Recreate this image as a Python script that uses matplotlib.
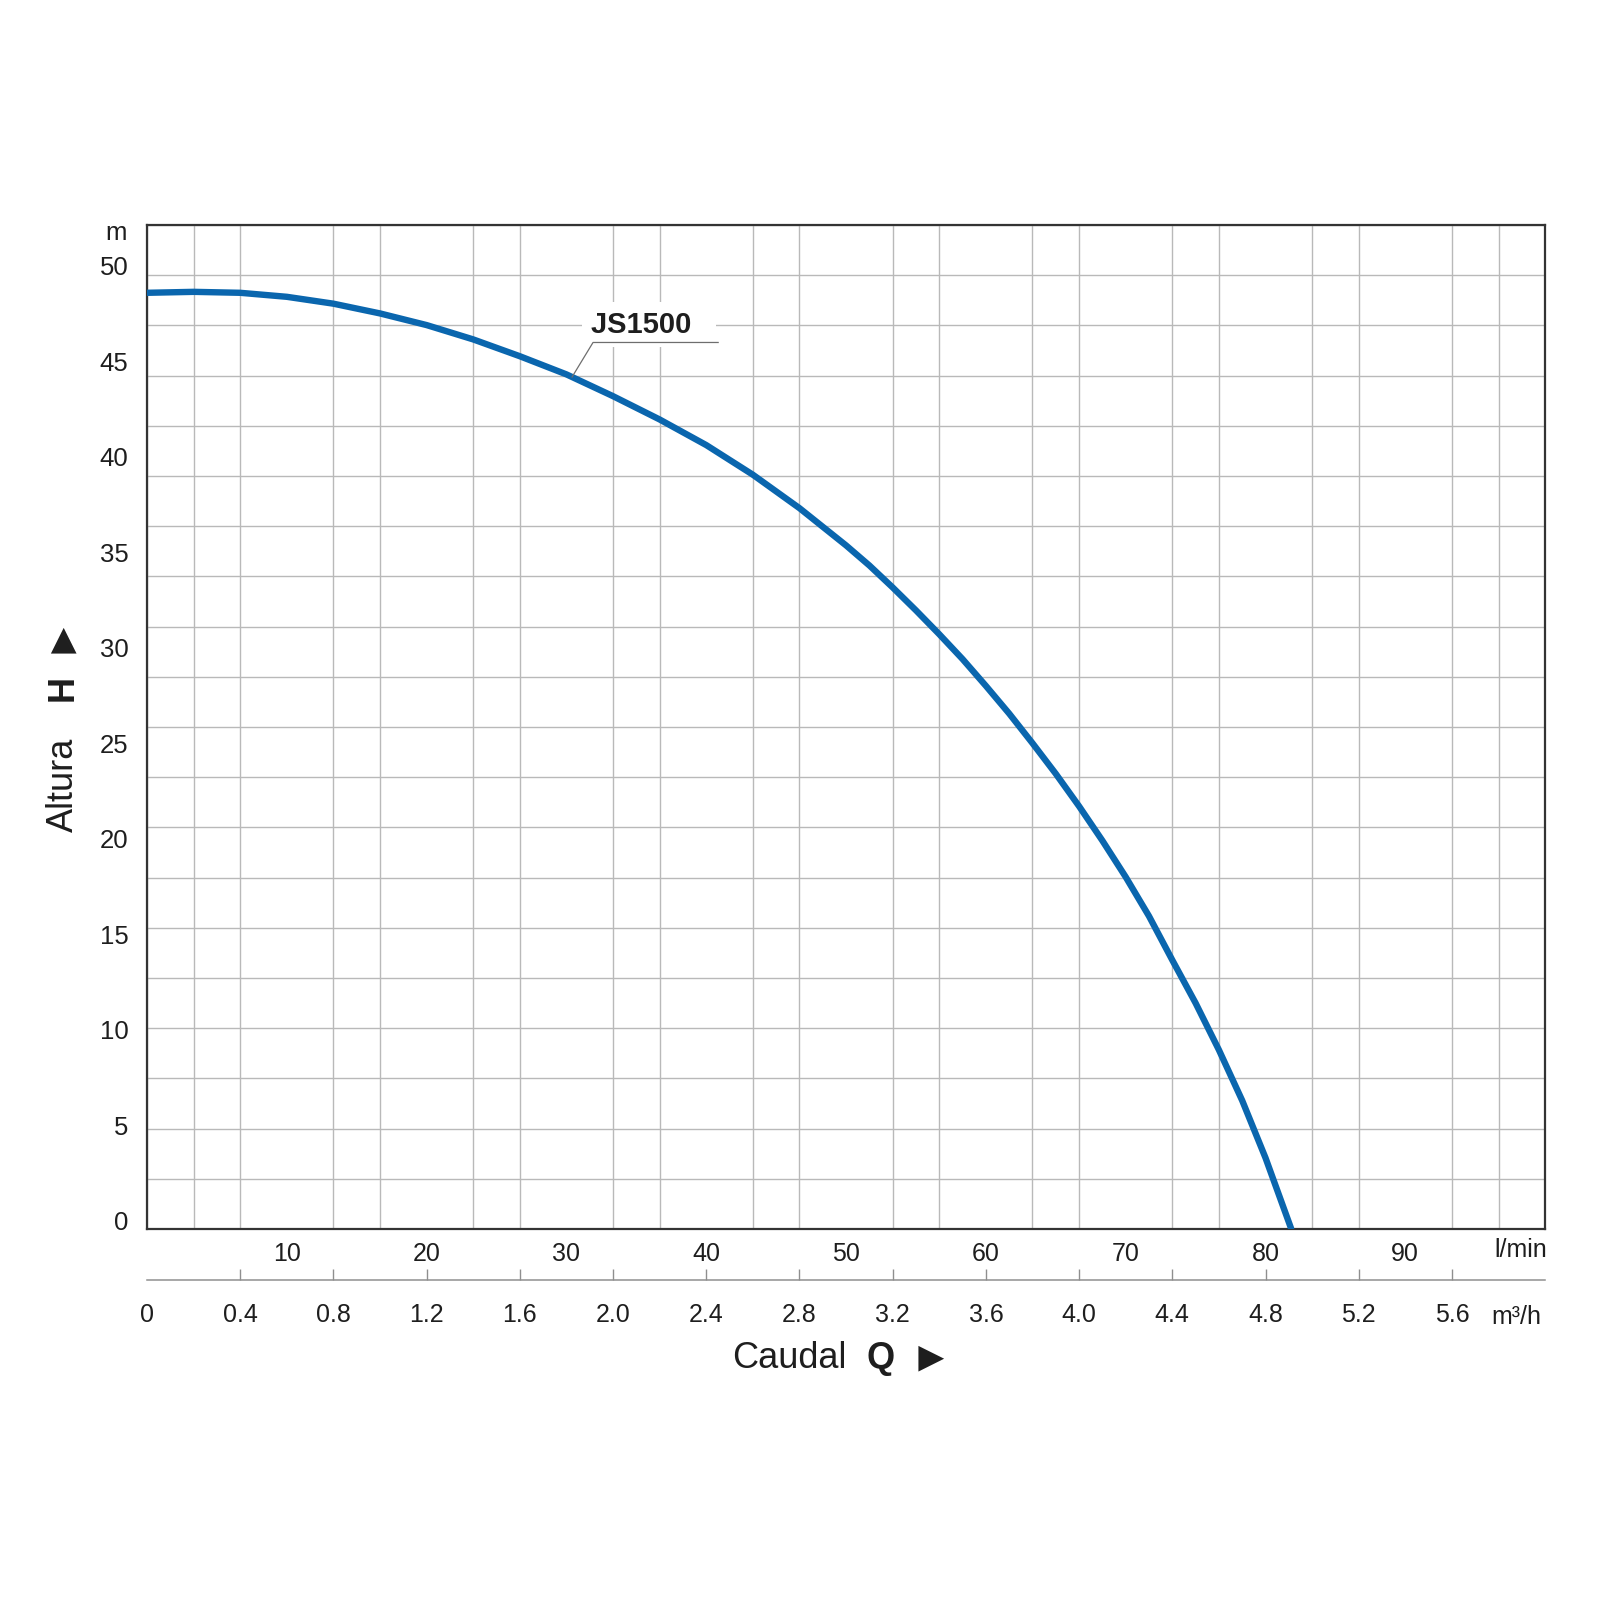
import numpy as np
import matplotlib
matplotlib.use("Agg")
import matplotlib.pyplot as plt

plt.rcParams['font.family'] = ['Liberation Sans', 'DejaVu Sans']

# DATA
# flow in m3/h, head in m
q_m3h = [0.0, 0.2, 0.4, 0.6, 0.8, 1.0, 1.2, 1.4, 1.6, 1.8, 2.0, 2.2, 2.4,
         2.6, 2.8, 3.0, 3.1, 3.2, 3.3, 3.4, 3.5, 3.6, 3.7, 3.8, 3.9, 4.0,
         4.1, 4.2, 4.3, 4.4, 4.5, 4.6, 4.7, 4.8, 4.91]
head_m = [48.57, 48.62, 48.57, 48.36, 48.0, 47.49, 46.88, 46.13, 45.25,
          44.3, 43.16, 41.94, 40.6, 39.05, 37.3, 35.35, 34.3, 33.15, 31.95,
          30.7, 29.4, 28.0, 26.55, 25.0, 23.4, 21.7, 19.9, 18.0, 15.95,
          13.65, 11.4, 8.95, 6.3, 3.3, -0.4]
pump_name = "JS1500"

lmin_ticks = [10, 20, 30, 40, 50, 60, 70, 80, 90]
m3h_ticks = [0, 0.4, 0.8, 1.2, 1.6, 2.0, 2.4, 2.8, 3.2, 3.6, 4.0, 4.4, 4.8, 5.2, 5.6]
m3h_labels = ["0"] + ["%.1f" % v for v in m3h_ticks[1:]]
head_ticks = [0, 5, 10, 15, 20, 25, 30, 35, 40, 45, 50]

LMIN_PER_M3H = 1000.0 / 60.0

# colours
BLUE = '#0a66ae'
GRID = '#b9b9b9'
DARK = '#1e1e1e'

#%% PLOT
fig = plt.figure(figsize=(16, 16), dpi=100)
ax = fig.add_axes([0.0919, 0.2319, 0.8738, 0.6275])

ax.plot(q_m3h, head_m, color=BLUE, lw=4.6, solid_capstyle='round',
        solid_joinstyle='round', zorder=5)

x0, x1 = 0.0, 6.0
y0, y1 = -0.42, 52.12
ax.set_xlim(x0, x1)
ax.set_ylim(y0, y1)

# grid: 30 columns, 20 rows
ax.set_xticks(np.arange(x0, x1 + 0.001, 0.2), minor=True)
ax.set_yticks(np.linspace(y0, y1, 21), minor=True)
ax.grid(which='minor', color=GRID, lw=1.0)
ax.tick_params(which='minor', length=0)
ax.set_axisbelow(True)

# l/min labels just under the frame
ax.set_xticks(np.array(lmin_ticks) / LMIN_PER_M3H, labels=[str(v) for v in lmin_ticks])
ax.set_yticks(head_ticks, labels=[str(v) for v in head_ticks])
ax.tick_params(axis='x', which='major', length=0, pad=9.5, labelsize=18, labelcolor=DARK)
ax.tick_params(axis='y', which='major', length=0, pad=13.5, labelsize=18.5, labelcolor=DARK)

for s in ax.spines.values():
    s.set_color('#333333')
    s.set_linewidth(1.6)

# m3/h scale below
sec = ax.secondary_xaxis(-0.0508)
sec.set_xticks(m3h_ticks, labels=m3h_labels)
sec.tick_params(direction='in', length=8, width=1.0, color='#8f8f8f', pad=16.5,
                labelsize=18, labelcolor=DARK)
sec.spines['bottom'].set_color('#8f8f8f')
sec.spines['bottom'].set_linewidth(1.1)
sec.xaxis.get_major_ticks()[0].tick1line.set_visible(False)

# curve label with leader line
q_anchor = 1.824
h_anchor = np.interp(q_anchor, q_m3h, head_m)
q_ul0, q_ul1, h_ul = 1.914, 2.451, 45.97
ax.plot([q_anchor, q_ul0, q_ul1], [h_anchor, h_ul, h_ul], color='#6e6e6e', lw=0.9, zorder=6)
ax.text(q_ul0 - 0.01, 46.9, pump_name + "  ", fontsize=21, fontweight='bold', color=DARK,
        ha='left', va='center', zorder=4,
        bbox=dict(boxstyle='square,pad=0.3', fc='white', ec='none'))

# units
fig.text(116 / 1600, 1 - 233 / 1600, "m", fontsize=18.5, color=DARK, ha='center', va='center')
fig.text(1521 / 1600, 1 - 1250 / 1600, "l/min", fontsize=18, color=DARK, ha='center', va='center')
fig.text(1516 / 1600, 1 - 1317 / 1600, "m³/h", fontsize=18, color=DARK, ha='center', va='center')

# axis titles
fig.text(63 / 1600, 1 - 785 / 1600, "Altura", fontsize=26, color=DARK, rotation=90,
         ha='center', va='center')
fig.text(63 / 1600, 1 - 688 / 1600, "H", fontsize=26, fontweight='bold', color=DARK,
         rotation=90, ha='center', va='center')
fig.text(57 / 1600, 1 - 632 / 1600, "►", fontsize=31, color=DARK, rotation=90,
         ha='center', va='center')

fig.text(789 / 1600, 1 - 1359 / 1600, "Caudal", fontsize=26, color=DARK, ha='center', va='center')
fig.text(881 / 1600, 1 - 1359 / 1600, "Q", fontsize=26, fontweight='bold', color=DARK,
         ha='center', va='center')
fig.text(931 / 1600, 1 - 1359 / 1600, "►", fontsize=31, color=DARK, ha='center', va='center')

fig.savefig("out.png", dpi=100, facecolor='white')
